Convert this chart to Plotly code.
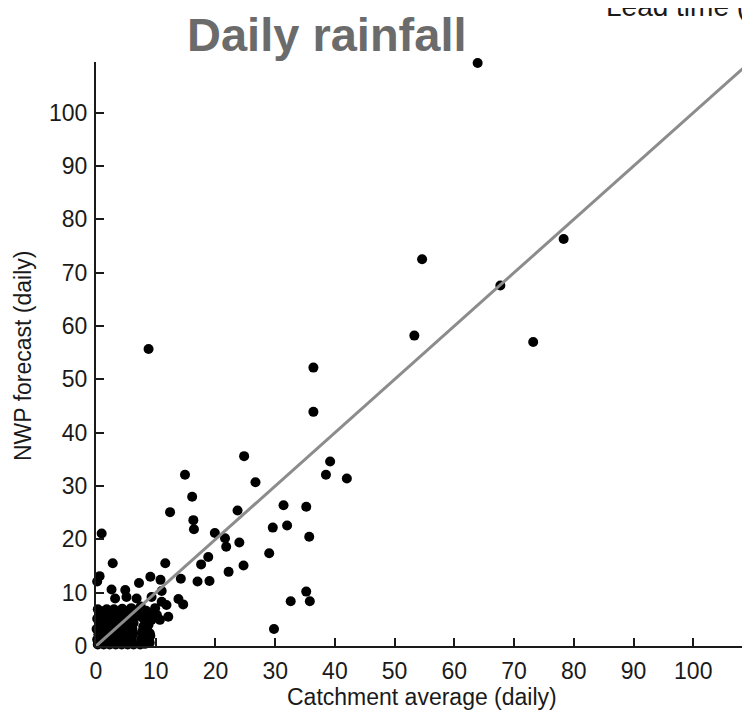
import plotly.graph_objects as go

# Scatter data: catchment average (x) vs NWP forecast (y), daily rainfall
obs_x = [63.9, 78.3, 67.7, 54.6, 53.3, 73.2, 8.8, 36.4, 36.4, 24.8,
         14.9, 26.7, 39.2, 38.5, 42.0, 16.1, 12.4, 23.7, 31.4, 35.2,
         16.3, 16.4, 0.95, 19.9, 21.6, 21.8, 24.0, 29.6, 32.0, 35.7,
         29.0, 18.8, 17.6, 2.8, 11.6, 24.7, 22.2, 35.2, 35.8, 32.6,
         29.8, 14.2, 17.0, 19.0, 9.1, 7.2, 10.8, 2.6, 4.9, 11.0,
         13.8, 14.6, 0.6, 0.2, 3.2, 5.1, 6.8, 9.3, 11.0, 11.8,
         9.9, 10.2, 10.7, 12.1]
fc_y = [109.3, 76.3, 67.6, 72.5, 58.2, 57.0, 55.7, 52.2, 43.9, 35.6,
        32.1, 30.7, 34.6, 32.1, 31.4, 28.0, 25.1, 25.4, 26.4, 26.1,
        23.6, 21.9, 21.1, 21.2, 20.2, 18.6, 19.4, 22.2, 22.6, 20.5,
        17.4, 16.7, 15.3, 15.5, 15.5, 15.1, 13.9, 10.2, 8.4, 8.4,
        3.2, 12.6, 12.1, 12.2, 13.0, 11.8, 12.4, 10.6, 10.5, 10.3,
        8.8, 7.8, 13.1, 12.1, 8.9, 9.2, 8.9, 9.2, 8.3, 7.7,
        7.1, 5.8, 4.9, 5.5]

# Dense cluster of small-rainfall days near the origin
low_x = [0.3, 1.3, 2.3, 3.3, 4.3, 5.3, 6.3, 7.4, 8.2, 9.0,
         0.8, 1.8, 2.8, 3.8, 4.8, 5.8, 8.0, 8.8,
         0.2, 1.1, 2.1, 3.0, 4.0, 5.0, 6.0, 7.6, 8.4, 9.1,
         0.7, 1.7, 2.7, 3.7, 4.7, 5.7, 8.2, 9.0,
         0.4, 1.4, 2.4, 3.4, 4.4, 5.4, 6.2, 7.7, 8.6,
         0.9, 1.9, 2.9, 3.9, 4.9, 5.9, 8.2,
         0.1, 1.0, 2.0, 3.0, 4.0, 5.0, 6.1, 7.9, 8.8,
         0.6, 1.6, 2.6, 3.6, 4.6, 5.6, 8.4,
         0.5, 1.5, 2.5, 3.5, 4.5, 5.5, 6.3, 8.2, 9.3,
         0.9, 1.9, 2.9, 3.9, 4.9, 5.9, 7.9,
         0.2, 1.2, 2.2, 3.2, 4.2, 5.2, 6.2, 7.4, 8.9,
         0.7, 1.7, 2.7, 3.7, 4.7, 5.7, 6.7,
         0.6, 1.6, 2.6, 3.6, 4.6, 5.6, 6.8, 8.4,
         1.1, 2.1, 3.1, 4.0, 5.1, 6.3,
         0.3, 1.8, 3.0, 4.4, 5.9, 7.5]
low_y = [0.3, 0.3, 0.3, 0.3, 0.3, 0.3, 0.3, 0.3, 0.4, 0.6,
         0.8, 0.8, 0.8, 0.8, 0.8, 0.8, 0.9, 1.0,
         1.2, 1.2, 1.2, 1.2, 1.2, 1.2, 1.2, 1.3, 1.5, 1.9,
         1.7, 1.7, 1.7, 1.7, 1.7, 1.7, 2.0, 2.4,
         2.2, 2.2, 2.2, 2.2, 2.2, 2.2, 2.2, 2.6, 2.9,
         2.7, 2.7, 2.7, 2.7, 2.7, 2.7, 3.2,
         3.2, 3.2, 3.2, 3.2, 3.2, 3.2, 3.2, 3.6, 4.0,
         3.7, 3.7, 3.7, 3.7, 3.7, 3.7, 4.2,
         4.2, 4.2, 4.2, 4.2, 4.2, 4.2, 4.3, 4.6, 4.9,
         4.7, 4.7, 4.7, 4.7, 4.7, 4.7, 5.2,
         5.1, 5.1, 5.1, 5.1, 5.1, 5.1, 5.2, 5.6, 5.9,
         5.6, 5.6, 5.6, 5.6, 5.6, 5.6, 5.8,
         6.1, 6.1, 6.1, 6.1, 6.1, 6.1, 6.3, 6.6,
         6.5, 6.5, 6.5, 6.6, 6.5, 6.7,
         6.9, 6.9, 6.9, 7.0, 7.1, 7.4]

line_x = [0, 110]
line_y = [0, 110]

x_ticks = [0, 10, 20, 30, 40, 50, 60, 70, 80, 90, 100]
y_ticks = [0, 10, 20, 30, 40, 50, 60, 70, 80, 90, 100]

title_text = "Daily rainfall"
corner_text = "Lead time ("
x_title = "Catchment average (daily)"
y_title = "NWP forecast (daily)"

FONT = "Liberation Sans, Arial, sans-serif"
INK = "#1a1a1a"

fig = go.Figure()
fig.add_trace(go.Scatter(
    x=obs_x + low_x, y=fc_y + low_y, mode="markers",
    marker=dict(color="black", size=10, symbol="circle", line=dict(width=0)),
    cliponaxis=False, showlegend=False, hoverinfo="skip"))
fig.add_trace(go.Scatter(
    x=line_x, y=line_y, mode="lines",
    line=dict(color="#8c8c8c", width=3),
    showlegend=False, hoverinfo="skip"))

axis_common = dict(
    showgrid=False, zeroline=False, showline=True, linecolor=INK, linewidth=2,
    ticks="inside", ticklen=8, tickwidth=1.5, tickcolor=INK,
    tickfont=dict(family=FONT, size=23, color=INK),
    mirror=False, automargin=False,
)

# The page adds an 8 px body margin, so the figure is 8 px smaller than the window
fig.update_layout(
    width=742, height=704,
    margin=dict(l=88, r=0, t=54, b=66),
    paper_bgcolor="white", plot_bgcolor="white",
    xaxis=dict(range=[0, 109.5], tickvals=x_ticks, ticklabelstandoff=3, **axis_common),
    yaxis=dict(range=[0, 109.5], tickvals=y_ticks, ticklabelstandoff=2, **axis_common),
    annotations=[
        dict(text="<b>" + title_text + "</b>", xref="paper", yref="paper",
             x=0.353, y=1.047, xanchor="center", yanchor="middle", showarrow=False,
             font=dict(family=FONT, size=47, color="#6b6b6b")),
        dict(text=corner_text, xref="paper", yref="paper",
             x=0.776, y=1.065, xanchor="left", yanchor="bottom", showarrow=False,
             font=dict(family=FONT, size=28, color=INK)),
        dict(text=x_title, xref="paper", yref="paper",
             x=0.498, y=-0.0873, xanchor="center", yanchor="middle", showarrow=False,
             font=dict(family=FONT, size=23, color=INK)),
        dict(text=y_title, xref="paper", yref="paper", textangle=-90,
             x=-0.1116, y=0.4966, xanchor="center", yanchor="middle", showarrow=False,
             font=dict(family=FONT, size=23, color=INK)),
    ],
)

fig.write_html("out.html")
